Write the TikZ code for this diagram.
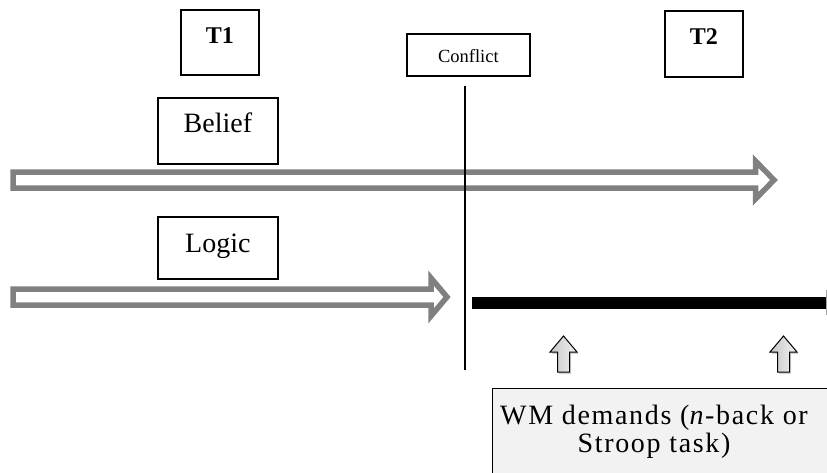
\documentclass[tikz,border=0pt]{standalone}
\usepackage{fontspec}
\setmainfont{Liberation Serif}
\newfontfamily\widefont[LetterSpace=6]{Liberation Serif}
\usetikzlibrary{shadows}
\definecolor{outline}{HTML}{808080}
\definecolor{panel}{HTML}{F2F2F2}
\begin{document}
\begin{tikzpicture}[x=1pt,y=-1pt,
  labelbox/.style={draw=black, line width=1.8pt, fill=white, inner sep=0pt, anchor=north west},
  hollowarrow/.style={draw=outline, line width=5.5pt, fill=white, line join=miter},
  uparrow/.style={draw=black, line width=1pt, left color=gray!45, right color=gray!10,
    drop shadow={shadow xshift=1.5pt, shadow yshift=-2pt, opacity=0.35}}]
\useasboundingbox (0,0) rectangle (827,472);

% time markers and labels
\node[labelbox, minimum width=78pt, text height=34pt, text depth=31pt,
  font=\bfseries\fontsize{24}{24}\selectfont] (t1) at (180,9) {T1};
\node[labelbox, minimum width=78pt, text height=34pt, text depth=32pt,
  font=\bfseries\fontsize{24}{24}\selectfont] (t2) at (664,10) {T2};
\node[labelbox, minimum width=123pt, text height=29pt, text depth=13pt,
  font=\fontsize{18.5}{18.5}\selectfont] (conflict) at (406,33) {Conflict};
\node[labelbox, minimum width=120pt, text height=35pt, text depth=31pt,
  font=\fontsize{28}{28}\selectfont] (belief) at (157,97) {Belief};
\node[labelbox, minimum width=120pt, text height=36pt, text depth=26pt,
  font=\fontsize{28}{28}\selectfont] (logic) at (157,216) {Logic};

% belief process: hollow block arrow
\draw[hollowarrow] (13,172) -- (755.5,172) -- (755.5,161) -- (774,180)
  -- (755.5,199) -- (755.5,188) -- (13,188) -- cycle;
% logic process: hollow block arrow, stopped at the conflict
\draw[hollowarrow] (13,289) -- (431,289) -- (431,278) -- (447,297)
  -- (431,316) -- (431,305) -- (13,305) -- cycle;

% conflict line
\coordinate (ctop) at (465,86);
\coordinate (cbot) at (465,370);
\draw[line width=1.8pt] (ctop) -- (cbot);

% load period
\coordinate (barL) at (472,303);
\coordinate (barR) at (827,303);
\draw[line width=12pt] (barL) -- (barR);
\draw[gray!70, line width=0.8pt] (826,290) -- (826,315);

% working-memory panel
\node[draw=black, line width=1.4pt, fill=panel, inner sep=0pt, anchor=north west,
  minimum width=345pt, minimum height=95pt] (wm) at (492,388) {};
\node[inner sep=0pt, anchor=north, align=center,
  font=\widefont\fontsize{28}{28}\selectfont] (wmtext) at (654,405)
  {WM demands (\textit{n}-back or\\Stroop task)};

% demand arrows pointing up to the load period
\foreach \cx/\nm in {563.5/upa, 783.5/upb}{
  \path[uparrow] (\cx-6,372) -- (\cx-6,352) -- (\cx-13.5,352) -- (\cx,336)
    -- (\cx+13.5,352) -- (\cx+6,352) -- (\cx+6,372) -- cycle;
}
\end{tikzpicture}
\end{document}
